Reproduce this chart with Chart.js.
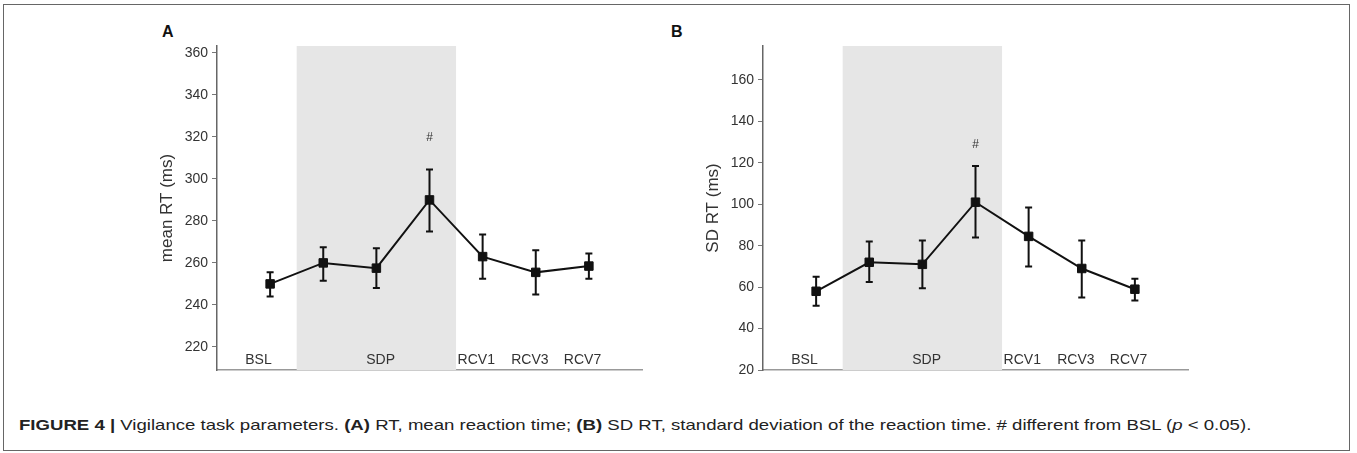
<!DOCTYPE html>
<html>
<head>
<meta charset="utf-8">
<script src="https://cdn.jsdelivr.net/npm/chart.js@4.4.0/dist/chart.umd.min.js"></script>
<style>
  html, body { margin: 0; padding: 0; background: #fff; }
  body { width: 1357px; height: 453px; position: relative; overflow: hidden; font-family: "Liberation Sans", Arial, sans-serif; }
  .frame { position: absolute; left: 3px; top: 4px; width: 1345px; height: 445px; border: 1.5px solid #666; }
  .panel { position: absolute; top: 0; }
  .letter { position: absolute; top: 23px; font-weight: bold; font-size: 16px; color: #111; }
  .caption { position: absolute; left: 19px; top: 417px; font-size: 15px; line-height: 15px; color: #222; white-space: nowrap; transform-origin: 0 50%; }
</style>
</head>
<body>
<div class="frame"></div>
<div class="letter" style="left:162px">A</div>
<div class="letter" style="left:671px">B</div>
<canvas id="chartA" class="panel" style="left:140px" width="520" height="390"></canvas>
<canvas id="chartB" class="panel" style="left:686px" width="520" height="390"></canvas>
<div class="caption" id="caption"><b>FIGURE 4 |</b> Vigilance task parameters. <b>(A)</b> RT, mean reaction time; <b>(B)</b> SD RT, standard deviation of the reaction time. # different from BSL (<i>p</i> &lt; 0.05).</div>
<script>
// sessions in order
const sessions = ["BSL", "SDP1", "SDP2", "SDP3", "RCV1", "RCV3", "RCV7"];
const groupLabels = ["BSL", "SDP", "RCV1", "RCV3", "RCV7"];
const groupLabelAt = [-0.22, 2.08, 3.88, 4.89, 5.88];

// (A) mean RT (ms)
const meanRT = [250, 260, 257.5, 290, 263, 255.5, 258.5];
const meanRTLow = [244, 251.5, 248, 275, 252.5, 245, 252.5];
const meanRTHigh = [255.5, 267.5, 267, 304.5, 273.5, 266, 264.5];
const ticksA = [220, 240, 260, 280, 300, 320, 340, 360];

// (B) SD RT (ms)
const sdRT = [58, 72, 71, 101, 84.5, 69, 59];
const sdRTLow = [51, 62.5, 59.5, 84, 70, 55, 53.5];
const sdRTHigh = [65, 82, 82.5, 118.5, 98.5, 82.5, 64];
const ticksB = [20, 40, 60, 80, 100, 120, 140, 160];

// significance mark
const hashIndex = 3;
const hashA = 319.5;
const hashB = 129;

const sdpStart = 0.5, sdpEnd = 3.5;

// stretch caption to the width it has in the figure
const caption = document.getElementById("caption");
caption.style.transform = "scaleX(" + (1232 / caption.offsetWidth) + ")";

// shading, error bars, labels inside plot
const panelDecor = {
    id: "panelDecor",
    beforeDatasetsDraw(chart) {
        const { ctx, chartArea, scales } = chart;
        const x0 = scales.x.getPixelForValue(sdpStart);
        const x1 = scales.x.getPixelForValue(sdpEnd);
        ctx.save();
        ctx.fillStyle = "#e6e6e6";
        ctx.fillRect(x0, chartArea.top, x1 - x0, chartArea.bottom - chartArea.top);
        ctx.restore();
    },
    afterDatasetsDraw(chart) {
        const { ctx, chartArea, scales } = chart;
        const o = chart.options.plugins.panelDecor;
        ctx.save();
        ctx.strokeStyle = "#111";
        ctx.lineWidth = 2;
        o.low.forEach(function (lo, i) {
            const x = scales.x.getPixelForValue(i);
            const yl = scales.y.getPixelForValue(lo);
            const yh = scales.y.getPixelForValue(o.high[i]);
            ctx.beginPath();
            ctx.moveTo(x, yl); ctx.lineTo(x, yh);
            ctx.moveTo(x - 3.5, yl); ctx.lineTo(x + 3.5, yl);
            ctx.moveTo(x - 3.5, yh); ctx.lineTo(x + 3.5, yh);
            ctx.stroke();
        });
        ctx.fillStyle = "#333";
        ctx.font = "14px 'Liberation Sans', Arial, sans-serif";
        ctx.textAlign = "center";
        ctx.textBaseline = "middle";
        groupLabels.forEach(function (t, i) {
            ctx.fillText(t, scales.x.getPixelForValue(groupLabelAt[i]), chartArea.bottom - 10);
        });
        ctx.font = "12px 'Liberation Sans', Arial, sans-serif";
        ctx.fillText("#", scales.x.getPixelForValue(hashIndex), scales.y.getPixelForValue(o.hashY));
        ctx.restore();
    }
};

function makePanel(canvasId, values, low, high, ticks, yMin, yMax, title, hashY) {
    const ctx = document.getElementById(canvasId).getContext("2d");
    return new Chart(ctx, {
        type: "line",
        data: {
            datasets: [{
                data: values.map(function (v, i) { return { x: i, y: v }; }),
                borderColor: "#111",
                borderWidth: 2,
                backgroundColor: "#111",
                pointStyle: "rect",
                pointRadius: 6,
                pointBorderWidth: 1,
                tension: 0
            }]
        },
        options: {
            responsive: false,
            animation: false,
            layout: { padding: { left: 13, right: 18, top: 46, bottom: 20 } },
            scales: {
                x: {
                    type: "linear",
                    min: -1,
                    max: 7,
                    ticks: { display: false },
                    grid: { display: false },
                    border: { display: true, color: "#999", width: 1.5 },
                    afterFit: function (s) { s.height = 0; }
                },
                y: {
                    min: yMin,
                    max: yMax,
                    afterBuildTicks: function (s) { s.ticks = ticks.map(function (v) { return { value: v }; }); },
                    afterFit: function (s) { s.width = 64; },
                    ticks: { color: "#333", font: { size: 14, family: "'Liberation Sans', Arial, sans-serif" }, padding: 4 },
                    grid: { display: true, drawOnChartArea: false, drawTicks: true, tickLength: 5, color: "#777" },
                    border: { display: true, color: "#666", width: 1.5 },
                    title: { display: true, text: title, color: "#333", font: { size: 17, family: "'Liberation Sans', Arial, sans-serif" } }
                }
            },
            plugins: {
                legend: { display: false },
                tooltip: { enabled: false },
                panelDecor: { low: low, high: high, hashY: hashY }
            }
        },
        plugins: [panelDecor]
    });
}

makePanel("chartA", meanRT, meanRTLow, meanRTHigh, ticksA, 209, 363.3, "mean RT (ms)", hashA);
makePanel("chartB", sdRT, sdRTLow, sdRTHigh, ticksB, 20, 176.4, "SD RT (ms)", hashB);
</script>
</body>
</html>
